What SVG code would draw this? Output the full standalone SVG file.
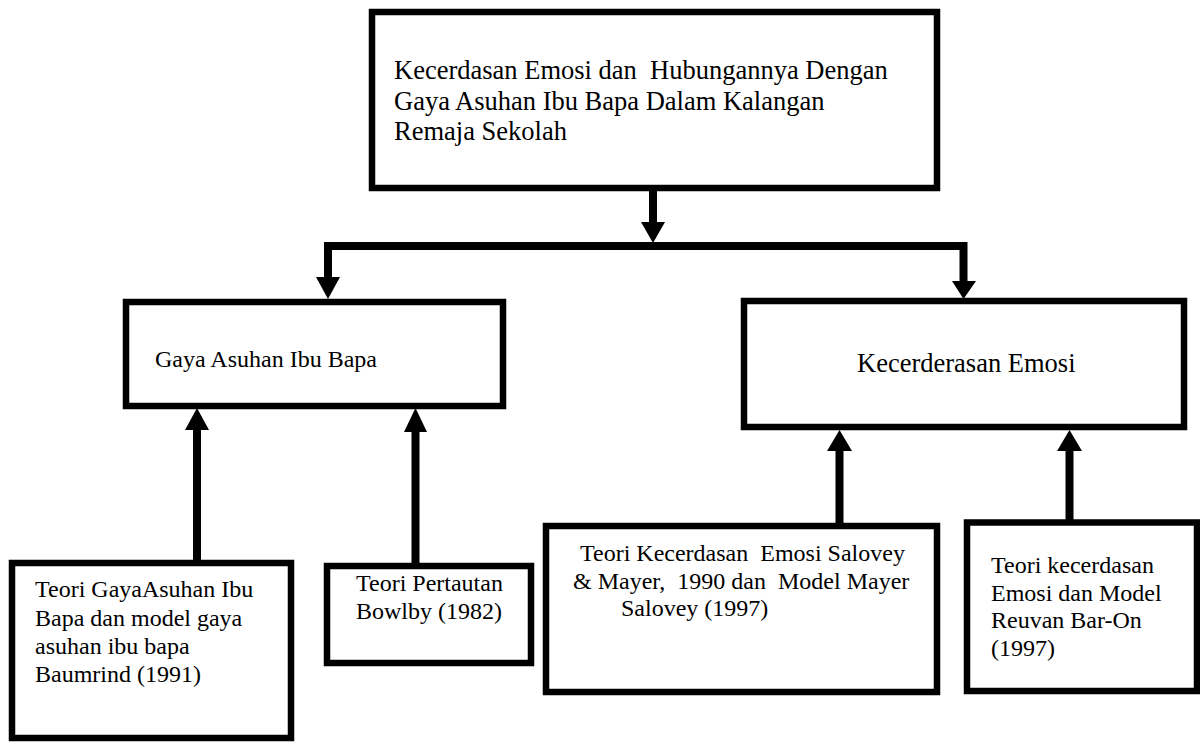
<svg xmlns="http://www.w3.org/2000/svg" width="1200" height="742" viewBox="0 0 1200 742">
  <style>
    .box { fill: #ffffff; stroke: #000000; stroke-width: 6.5; }
    .shaft { fill: none; stroke: #000000; stroke-width: 8; stroke-linejoin: miter; stroke-linecap: butt; }
    .head { fill: #000000; stroke: none; }
    text { font-family: "Liberation Serif", "Times New Roman", serif; fill: #000000; white-space: pre; }
    .t26 { font-size: 26.5px; }
    .t24 { font-size: 24px; }
  </style>

  <rect width="1200" height="742" fill="#ffffff"/>

  <!-- connectors: split from the title down to both topics, and theories up into each topic -->
  <g id="connectors">
    <path class="shaft" d="M653,191 V223"/>
    <polygon class="head" points="641,222 665,222 653,243"/>

    <path class="shaft" d="M328,278 V246 H963.5 V283"/>
    <polygon class="head" points="316,277 340,277 328,299"/>
    <polygon class="head" points="952,281 976,281 963.5,299"/>

    <path class="shaft" d="M197,560 V429"/>
    <polygon class="head" points="185,430 209,430 197,408"/>

    <path class="shaft" d="M415.5,563 V431"/>
    <polygon class="head" points="404,432 427,432 415.5,408"/>

    <path class="shaft" d="M839.5,523 V450"/>
    <polygon class="head" points="827,451 852,451 839.5,430"/>

    <path class="shaft" d="M1069.5,523 V450"/>
    <polygon class="head" points="1057,451 1082,451 1069.5,430"/>
  </g>

  <g id="title">
    <rect class="box" x="372" y="12" width="565" height="176"/>
    <text class="t26" xml:space="preserve"><tspan x="394" y="79">Kecerdasan Emosi dan  Hubungannya Dengan</tspan><tspan x="394" y="109.5">Gaya Asuhan Ibu Bapa Dalam Kalangan</tspan><tspan x="394" y="140">Remaja Sekolah</tspan></text>
  </g>

  <g id="gaya-asuhan">
    <rect class="box" x="126" y="302" width="377" height="104"/>
    <text class="t24" x="155" y="367">Gaya Asuhan Ibu Bapa</text>
  </g>

  <g id="kecerdasan-emosi">
    <rect class="box" x="744" y="301" width="440" height="126"/>
    <text class="t26" x="857" y="372">Kecerderasan Emosi</text>
  </g>

  <g id="teori-baumrind">
    <rect class="box" x="12" y="563" width="279" height="175"/>
    <text class="t24"><tspan x="35" y="597">Teori GayaAsuhan Ibu</tspan><tspan x="35" y="625.5">Bapa dan model gaya</tspan><tspan x="35" y="653.5">asuhan ibu bapa</tspan><tspan x="35" y="682">Baumrind (1991)</tspan></text>
  </g>

  <g id="teori-bowlby">
    <rect class="box" x="327" y="566" width="204" height="97"/>
    <text class="t24"><tspan x="356" y="591">Teori Pertautan</tspan><tspan x="356" y="619">Bowlby (1982)</tspan></text>
  </g>

  <g id="teori-salovey-mayer">
    <rect class="box" x="546" y="526" width="391" height="166"/>
    <text class="t24" xml:space="preserve"><tspan x="580" y="560.5">Teori Kecerdasan  Emosi Salovey</tspan><tspan x="573" y="588.5">&amp; Mayer,  1990 dan  Model Mayer</tspan><tspan x="621" y="616">Salovey (1997)</tspan></text>
  </g>

  <g id="teori-bar-on">
    <rect class="box" x="967" y="522.5" width="230" height="168.5"/>
    <text class="t24"><tspan x="991" y="573">Teori kecerdasan</tspan><tspan x="991" y="601">Emosi dan Model</tspan><tspan x="991" y="628">Reuvan Bar-On</tspan><tspan x="991" y="656">(1997)</tspan></text>
  </g>
</svg>
